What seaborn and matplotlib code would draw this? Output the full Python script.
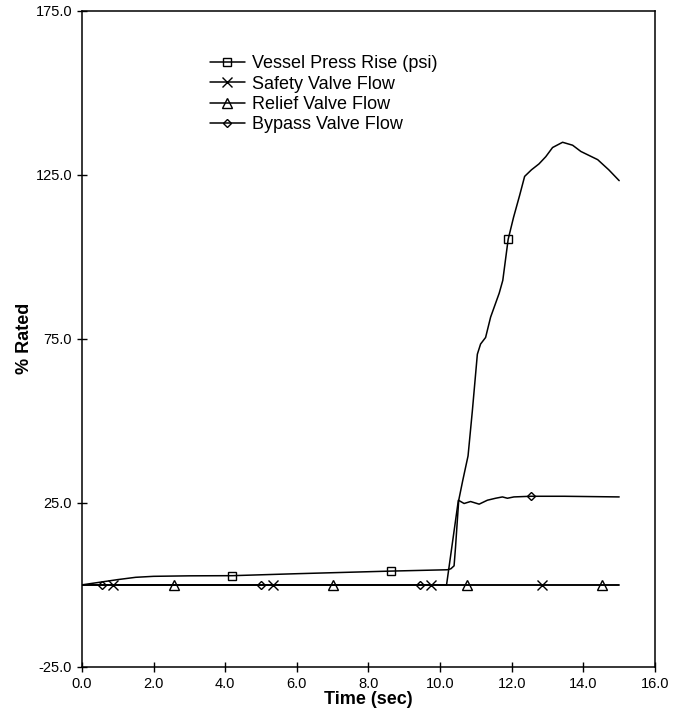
import matplotlib
matplotlib.use("Agg")
import matplotlib.pyplot as plt
import seaborn as sns
import numpy as np

# data
vessel_t = [0.0, 0.5, 1.0, 1.5, 2.0, 3.0, 4.2, 6.0, 8.64, 10.2, 10.3, 10.39, 10.43,
            10.48, 10.52, 10.63, 10.78, 10.9, 11.04, 11.13, 11.27, 11.41, 11.65, 11.75,
            11.9, 12.05, 12.22, 12.36, 12.55, 12.76, 12.95, 13.14, 13.42, 13.7, 13.93,
            14.4, 14.71, 15.0]
vessel_v = [0.0, 0.8, 1.6, 2.3, 2.6, 2.75, 2.8, 3.4, 4.2, 4.6, 4.9, 5.8, 11.4,
            19.5, 25.8, 31.7, 39.3, 53.0, 70.3, 73.4, 75.4, 81.6, 88.9, 92.8,
            105.3, 112.0, 118.7, 124.5, 126.5, 128.3, 130.5, 133.3, 134.9, 134.0, 132.1,
            129.6, 126.5, 123.2]
vessel_marks = [6, 8, 24]

safety_t = [0.0, 0.88, 5.33, 9.74, 12.84, 15.0]
safety_v = [0, 0, 0, 0, 0, 0]
safety_marks = [1, 2, 3, 4]

relief_t = [0.0, 2.57, 7.0, 10.75, 14.53, 15.0]
relief_v = [0, 0, 0, 0, 0, 0]
relief_marks = [1, 2, 3, 4]

bypass_t = [0.0, 0.57, 5.0, 9.45, 10.18, 10.51, 10.67, 10.85, 11.09, 11.32, 11.55,
            11.74, 11.88, 12.06, 12.53, 13.46, 15.0]
bypass_v = [0, 0, 0, 0, 0, 25.8, 24.8, 25.4, 24.6, 25.8, 26.4, 26.8, 26.4, 26.8,
            27.0, 27.0, 26.8]
bypass_marks = [1, 2, 3, 14]

x_ticks = np.arange(0, 16.1, 2)
y_ticks = np.arange(-25, 176, 50)

sns.set_style("ticks")
plt.rcParams['font.family'] = ['Liberation Sans', 'DejaVu Sans']
plt.rcParams['text.color'] = 'black'
plt.rcParams['axes.labelcolor'] = 'black'

fig = plt.figure(figsize=(6.83, 7.14), dpi=100)
ax = fig.add_axes([0.120, 0.066, 0.839, 0.919])

common = dict(ax=ax, color='black', linewidth=1.1, estimator=None, sort=False,
              markerfacecolor='none', markeredgecolor='black', markeredgewidth=1.0)

sns.lineplot(x=vessel_t, y=vessel_v, marker='s', markersize=6,
             markevery=vessel_marks, label='Vessel Press Rise (psi)', **common)
sns.lineplot(x=safety_t, y=safety_v, marker='x', markersize=7,
             markevery=safety_marks, label='Safety Valve Flow', **common)
sns.lineplot(x=relief_t, y=relief_v, marker='^', markersize=6.5,
             markevery=relief_marks, label='Relief Valve Flow', **common)
sns.lineplot(x=bypass_t, y=bypass_v, marker='D', markersize=4.5,
             markevery=bypass_marks, label='Bypass Valve Flow', **common)

ax.set_xlim(0, 16)
ax.set_ylim(-25, 175)
ax.set_xticks(x_ticks)
ax.set_yticks(y_ticks)
ax.set_xticklabels([f"{v:.1f}" for v in x_ticks])
ax.set_yticklabels([f"{v:.1f}" for v in y_ticks])
ax.tick_params(direction='inout', length=7, width=1, labelsize=10.5, colors='black')

for s in ax.spines.values():
    s.set_visible(True)
    s.set_color('black')
    s.set_linewidth(1.1)

ax.set_xlabel('Time (sec)', fontsize=13, fontweight='bold', labelpad=0)
ax.set_ylabel('% Rated', fontsize=13, fontweight='bold', labelpad=2)

ax.legend(loc='upper left', bbox_to_anchor=(0.223, 0.932), frameon=False,
          fontsize=13, handlelength=1.95, handletextpad=0.4, labelspacing=0.18,
          borderpad=0, borderaxespad=0)

plt.savefig('out.png', dpi=100)
